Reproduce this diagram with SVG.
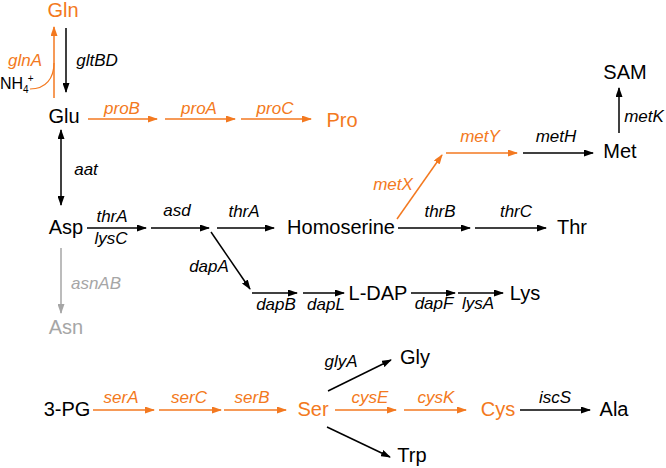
<svg xmlns="http://www.w3.org/2000/svg" width="666" height="468" viewBox="0 0 666 468">
<style>
text{font-family:"Liberation Sans",Arial,sans-serif;text-anchor:middle}
.n{font-size:20px}
.l{font-size:17px;font-style:italic}
.k{fill:#000}
.o{fill:#F37920}
.g{fill:#A6A6A6}
.ck{stroke:#000;stroke-width:1.5;fill:none;marker-end:url(#ak)}
.co{stroke:#F37920;stroke-width:1.5;fill:none;marker-end:url(#ao)}
.cg{stroke:#A6A6A6;stroke-width:1.5;fill:none;marker-end:url(#ag)}
</style>
<defs>
<marker id="ak" viewBox="0 0 10 7" markerWidth="10" markerHeight="7" refX="9" refY="3.5" orient="auto-start-reverse" markerUnits="userSpaceOnUse"><path d="M0,0 L10,3.5 L0,7 z" fill="#000"/></marker>
<marker id="ao" viewBox="0 0 10 7" markerWidth="10" markerHeight="7" refX="9" refY="3.5" orient="auto" markerUnits="userSpaceOnUse"><path d="M0,0 L10,3.5 L0,7 z" fill="#F37920"/></marker>
<marker id="ag" viewBox="0 0 10 7" markerWidth="10" markerHeight="7" refX="9" refY="3.5" orient="auto" markerUnits="userSpaceOnUse"><path d="M0,0 L10,3.5 L0,7 z" fill="#A6A6A6"/></marker>
</defs>
<g id="connectors">
<path class="co" d="M54,98 L54,27"/>
<path class="ck" d="M66,28 L66,92"/>
<path d="M30,89 C46,89 54,78 54,63" stroke="#F37920" stroke-width="1.2" fill="none"/>
<path class="co" d="M88,119 L157,119"/>
<path class="co" d="M165,119 L235,119"/>
<path class="co" d="M241,119 L311,119"/>
<path class="ck" d="M61,130 L61,205" marker-start="url(#ak)"/>
<path class="ck" d="M87,228 L146,228"/>
<path class="ck" d="M151,228 L209,228"/>
<path class="ck" d="M217,228 L274,228"/>
<path class="ck" d="M398,228 L470,228"/>
<path class="ck" d="M475,228 L546,228"/>
<path class="co" d="M397,219 L442,155"/>
<path class="co" d="M446,153 L517,153"/>
<path class="ck" d="M523,153 L593,153"/>
<path class="ck" d="M619,133 L619,88"/>
<path class="ck" d="M211,232 L250,289"/>
<path class="ck" d="M252,293 L297,293"/>
<path class="ck" d="M303,293 L344,293"/>
<path class="ck" d="M411,293 L455,293"/>
<path class="ck" d="M458,293 L503,293"/>
<path class="cg" d="M61,248 L61,313"/>
<path class="co" d="M93,410 L154,410"/>
<path class="co" d="M159,410 L221,410"/>
<path class="co" d="M224,410 L286,410"/>
<path class="co" d="M335,410 L396,410"/>
<path class="co" d="M404,410 L466,410"/>
<path class="ck" d="M520,410 L590,410"/>
<path class="ck" d="M328,391 L391,360"/>
<path class="ck" d="M327,427 L390,457"/>
</g>
<g id="labels">
<text class="l o" x="25" y="66">glnA</text>
<text class="l k" x="97" y="66">gltBD</text>
<text class="l o" x="122" y="114">proB</text>
<text class="l o" x="199" y="114">proA</text>
<text class="l o" x="275" y="114">proC</text>
<text class="l k" x="86" y="175">aat</text>
<text class="l k" x="112" y="222">thrA</text>
<text class="l k" x="111" y="244">lysC</text>
<text class="l k" x="177" y="216">asd</text>
<text class="l k" x="244" y="217">thrA</text>
<text class="l k" x="440" y="217">thrB</text>
<text class="l k" x="516" y="217">thrC</text>
<text class="l o" x="393" y="190">metX</text>
<text class="l o" x="480" y="142">metY</text>
<text class="l k" x="556" y="142">metH</text>
<text class="l k" x="644" y="122">metK</text>
<text class="l k" x="209" y="272">dapA</text>
<text class="l k" x="276" y="310">dapB</text>
<text class="l k" x="326" y="310">dapL</text>
<text class="l k" x="434" y="309">dapF</text>
<text class="l k" x="478" y="309">lysA</text>
<text class="l g" x="96" y="289">asnAB</text>
<text class="l o" x="121" y="403">serA</text>
<text class="l o" x="189" y="403">serC</text>
<text class="l o" x="252" y="403">serB</text>
<text class="l o" x="370" y="403">cysE</text>
<text class="l o" x="436" y="403">cysK</text>
<text class="l k" x="555" y="403">iscS</text>
<text class="l k" x="341" y="367">glyA</text>
</g>
<g id="Gln"><text class="n o" x="63" y="17">Gln</text></g>
<g id="NH4"><text x="0" y="89" style="font-size:16px;text-anchor:start">NH<tspan dy="4" style="font-size:10px">4</tspan><tspan dx="-1" dy="-11" style="font-size:10px">+</tspan></text></g>
<g id="Glu"><text class="n k" x="64" y="123">Glu</text></g>
<g id="Pro"><text class="n o" x="342" y="127">Pro</text></g>
<g id="Asp"><text class="n k" x="66" y="234">Asp</text></g>
<g id="Homoserine"><text class="n k" x="341" y="234">Homoserine</text></g>
<g id="Thr"><text class="n k" x="572" y="234">Thr</text></g>
<g id="Met"><text class="n k" x="620" y="158">Met</text></g>
<g id="SAM"><text class="n k" x="625" y="79">SAM</text></g>
<g id="LDAP"><text class="n k" x="378" y="300">L-DAP</text></g>
<g id="Lys"><text class="n k" x="525" y="300">Lys</text></g>
<g id="Asn"><text class="n g" x="66" y="334">Asn</text></g>
<g id="PG3"><text class="n k" x="67" y="416">3-PG</text></g>
<g id="Ser"><text class="n o" x="313" y="416">Ser</text></g>
<g id="Cys"><text class="n o" x="498" y="416">Cys</text></g>
<g id="Ala"><text class="n k" x="614" y="416">Ala</text></g>
<g id="Gly"><text class="n k" x="415" y="364">Gly</text></g>
<g id="Trp"><text class="n k" x="412" y="462">Trp</text></g>
</svg>
